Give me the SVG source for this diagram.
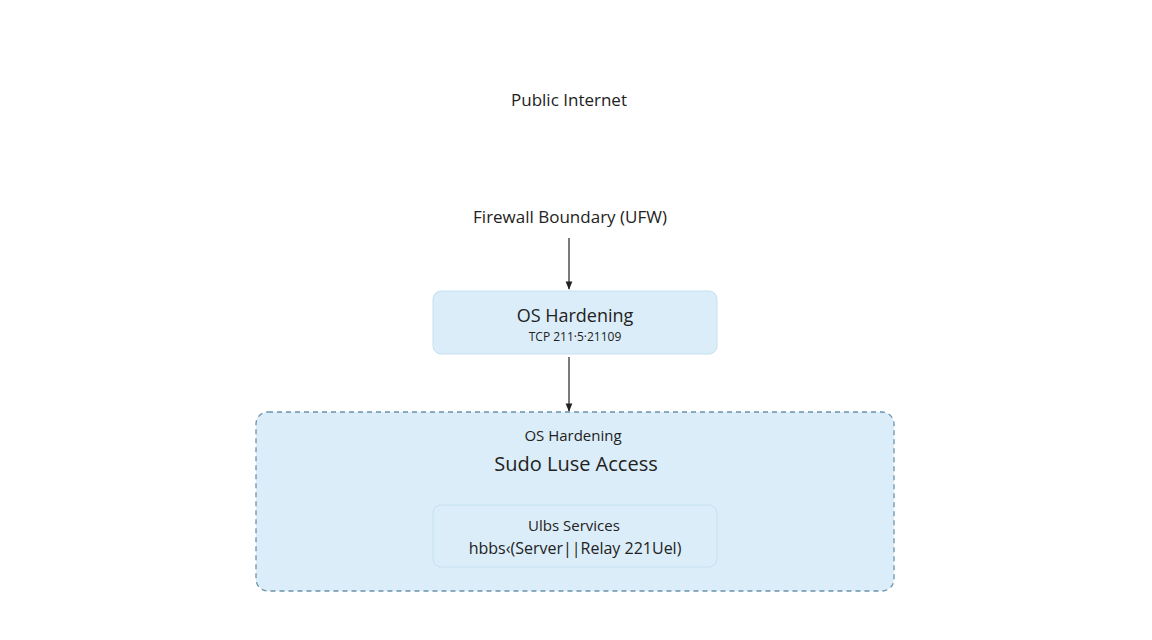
<svg xmlns="http://www.w3.org/2000/svg" width="1152" height="640" viewBox="0 0 1152 640">
<style>
text{font-family:"Open Sans","Liberation Sans",sans-serif;fill:#222;text-anchor:middle}
.c{stroke:#222;stroke-width:1.2;fill:none}
</style>
<defs><marker id="a" viewBox="0 0 10 10" refX="9" refY="5" markerWidth="7" markerHeight="7" orient="auto"><path d="M0,1L10,5L0,9z" fill="#222"/></marker></defs>
<rect width="1152" height="640" fill="#fff"/>
<g id="internet"><text x="569" y="106" font-size="17">Public Internet</text></g>
<g id="firewall"><text x="570" y="223" font-size="17">Firewall Boundary (UFW)</text></g>
<g id="os1"><rect x="433" y="291" width="284" height="63" rx="8" fill="#dbedf8" stroke="#c5e0f0"/>
<text x="575" y="322" font-size="18">OS Hardening</text><text x="575" y="341" font-size="12">TCP 211·5·21109</text></g>
<g id="os2"><rect x="256" y="412" width="638" height="179" rx="12" fill="#dbedf8" stroke="#6a93ad" stroke-width="1.3" stroke-dasharray="5,4"/>
<text x="573" y="441" font-size="15">OS Hardening</text><text x="576" y="471" font-size="20">Sudo Luse Access</text></g>
<g id="svc"><rect x="433" y="505" width="284" height="62" rx="8" fill="#dbedf8" stroke="#c5e0f0"/>
<text x="574" y="531" font-size="15">Ulbs Services</text><text x="575" y="554" font-size="16">hbbs‹(Server||Relay 221Uel)</text></g>
<g id="connectors"><line class="c" x1="569" y1="238" x2="569" y2="289" marker-end="url(#a)"/><line class="c" x1="569" y1="357" x2="569" y2="411" marker-end="url(#a)"/></g>
</svg>
